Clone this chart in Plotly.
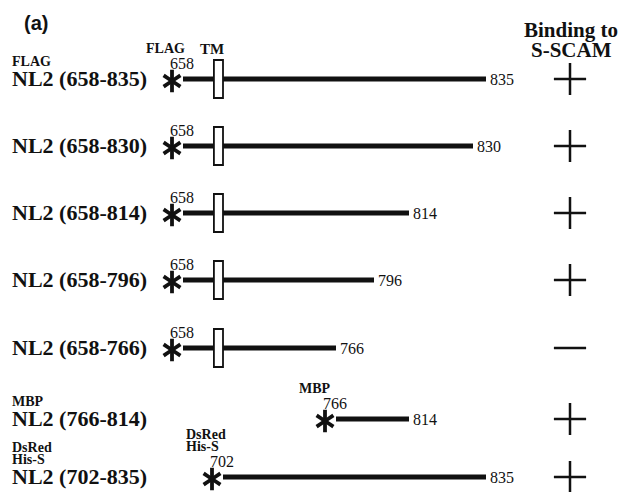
import numpy as np
import plotly.graph_objects as go

# ---------------- data ----------------
construct_labels = ["NL2 (658-835)", "NL2 (658-830)", "NL2 (658-814)", "NL2 (658-796)",
                    "NL2 (658-766)", "NL2 (766-814)", "NL2 (702-835)"]
start_res = [658, 658, 658, 658, 658, 766, 702]
end_res = [835, 830, 814, 796, 766, 814, 835]
left_tags = [["FLAG"], [], [], [], [], ["MBP"], ["DsRed", "His-S"]]
inline_tags = [["FLAG"], [], [], [], [], ["MBP"], ["DsRed", "His-S"]]
has_tm = [True, True, True, True, True, False, False]
tm_res = (692, 702)
binding = ["+", "+", "+", "+", "−", "+", "+"]

# ---------------- layout (diagram scale, not to scale in the original) ----------------
W, H = 622, 492
row_y = [79, 146, 213, 280, 348, 419, 477]
scale_res = [658, 702, 766, 796, 814, 830, 835]
scale_px = [183, 223, 336, 374, 409, 473, 486]


def sx(r):
    return float(np.interp(r, scale_res, scale_px))


SERIF = "Liberation Serif"
fig = go.Figure()
ann = []
shapes = []

line_x, line_y = [], []
star_x, star_y = [], []
for i in range(len(construct_labels)):
    y = row_y[i]
    x0, x1 = sx(start_res[i]), sx(end_res[i])
    line_x += [x0, x1, None]
    line_y += [y, y, None]
    star_x.append(x0 - 11)
    star_y.append(y + 2)
    # construct label
    ann.append(dict(x=10, y=y - 1, text="<b>%s</b>" % construct_labels[i], xanchor="left",
                    yanchor="middle", font=dict(family=SERIF, size=22, color="#111")))
    # left tags
    tags = left_tags[i]
    for k, t in enumerate(reversed(tags)):
        ann.append(dict(x=10, y=y - 18 - 12 * k, text="<b>%s</b>" % t, xanchor="left",
                        yanchor="middle", font=dict(family=SERIF, size=14, color="#111")))
    # inline tags
    tags = inline_tags[i]
    for k, t in enumerate(reversed(tags)):
        ann.append(dict(x=x0 - 39, y=y - 31 - 12 * k, text="<b>%s</b>" % t, xanchor="left",
                        yanchor="middle", font=dict(family=SERIF, size=14, color="#111")))
    # residue numbers
    ann.append(dict(x=x0 - 1, y=y - 16, text=str(start_res[i]), xanchor="center",
                    yanchor="middle", font=dict(family=SERIF, size=16, color="#111")))
    ann.append(dict(x=x1 + 2, y=y, text=str(end_res[i]), xanchor="left",
                    yanchor="middle", font=dict(family=SERIF, size=16, color="#111")))
    if has_tm[i]:
        shapes.append(dict(type="rect", xref="x", yref="y", x0=sx(tm_res[0]), x1=sx(tm_res[1]),
                           y0=y - 19, y1=y + 19, fillcolor="white",
                           line=dict(color="#111", width=1.8), layer="above"))

fig.add_trace(go.Scatter(x=line_x, y=line_y, mode="lines",
                         line=dict(color="#111", width=5), hoverinfo="skip"))
for sym in ["y-up-open", "y-down-open"]:
    fig.add_trace(go.Scatter(x=star_x, y=star_y, mode="markers", hoverinfo="skip",
                             marker=dict(symbol=sym, size=14, color="#111",
                                         line=dict(color="#111", width=3.8))))

# binding column
bx = 570
plus_y = [row_y[i] for i in range(len(binding)) if binding[i] == "+"]
minus_y = [row_y[i] for i in range(len(binding)) if binding[i] != "+"]
fig.add_trace(go.Scatter(x=[bx] * len(plus_y), y=plus_y, mode="markers", hoverinfo="skip",
                         marker=dict(symbol="cross-thin-open", size=23, color="#111",
                                     line=dict(color="#111", width=2.5))))
fig.add_trace(go.Scatter(x=[bx] * len(minus_y), y=minus_y, mode="markers", hoverinfo="skip",
                         marker=dict(symbol="line-ew-open", size=23, color="#111",
                                     line=dict(color="#111", width=2.5))))

ann.append(dict(x=571, y=30, text="<b>Binding to</b>", xanchor="center", yanchor="middle",
                font=dict(family=SERIF, size=21, color="#111")))
ann.append(dict(x=571, y=50, text="<b>S-SCAM</b>", xanchor="center", yanchor="middle",
                font=dict(family=SERIF, size=21, color="#111")))
ann.append(dict(x=sx(tm_res[0]) - 2, y=49, text="<b>TM</b>", xanchor="center", yanchor="middle",
                font=dict(family=SERIF, size=15, color="#111")))
ann.append(dict(x=22, y=23, text="<b>(a)</b>", xanchor="left", yanchor="middle",
                font=dict(family="Liberation Sans", size=20, color="#111")))

for a in ann:
    a.update(xref="x", yref="y", showarrow=False)

fig.update_layout(width=W, height=H, margin=dict(l=0, r=0, t=0, b=0),
                  paper_bgcolor="white", plot_bgcolor="white", showlegend=False,
                  annotations=ann, shapes=shapes,
                  xaxis=dict(range=[0, W], visible=False, fixedrange=True),
                  yaxis=dict(range=[H, 0], visible=False, fixedrange=True))
fig.write_html("out.html", config={"displayModeBar": False},
               post_script="document.body.style.margin='0';document.body.style.overflow='hidden';")
